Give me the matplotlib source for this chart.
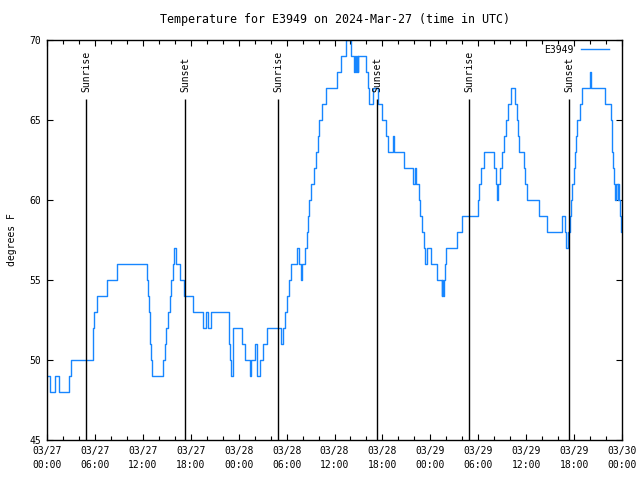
import pandas as pd
import matplotlib
matplotlib.use("Agg")
from matplotlib import pyplot as plt
from matplotlib.lines import Line2D
import matplotlib.dates as mdates

plt.rcParams["font.family"] = ["DejaVu Sans Mono"]
plt.rcParams["font.size"] = 7

START = pd.Timestamp("2024-03-27 00:00")
END = pd.Timestamp("2024-03-30 00:00")
STATION = "E3949"
LINE_COLOR = "#1786ff"

# hours since 03/27 00:00 UTC at which the reading changed, and the new reading (F)
hours = [
    0.0, 0.35, 0.95, 1.55, 2.75, 3.0, 5.7, 5.85, 6.3, 7.5, 8.75,
    12.55, 12.7, 12.8, 12.9, 12.95, 13.05, 13.15,
    14.5, 14.75, 14.95, 15.15, 15.35, 15.55, 15.75, 15.9,
    16.15, 16.6, 17.15, 18.25, 19.55, 19.85, 20.15, 20.5,
    22.75, 22.85, 22.95, 23.1, 23.35,
    24.4, 24.85, 25.4, 25.6, 26.05, 26.25, 26.35, 26.7, 27.0, 27.5,
    29.25, 29.5, 29.85, 30.1, 30.35, 30.6, 31.3, 31.55, 31.75, 31.95,
    32.3, 32.5, 32.7, 32.85,
    33.05, 33.4, 33.65, 33.9, 34.1, 34.4, 34.9, 36.35, 36.8, 37.45,
    38.1, 38.4, 38.55, 38.7, 38.8, 38.9, 39.0, 39.95, 40.15, 40.35, 40.8,
    41.45, 41.9, 42.4, 42.75, 43.3, 43.45, 44.75, 45.85, 46.05, 46.25,
    46.6, 46.75, 46.9,
    47.2, 47.35, 47.55, 48.1, 48.85, 49.45, 49.5, 49.6, 49.7, 49.8, 49.9,
    51.35, 52.0, 53.95, 54.05, 54.3, 54.7, 55.95, 56.2, 56.35, 56.5, 56.75,
    57.0, 57.25, 57.5, 57.75, 58.05,
    58.65, 58.8, 58.95, 59.05, 59.7, 59.85, 60.05, 61.6, 62.55, 64.5, 64.8,
    65.0, 65.2, 65.45, 65.65, 65.8, 65.95, 66.15, 66.25, 66.35, 66.8, 67.0,
    68.0, 68.15, 69.85, 70.65, 70.72, 70.8, 70.9, 71.0, 71.1, 71.25, 71.45,
    71.55, 71.65, 71.75, 71.9, 72.0,
]
temps = [
    49, 48, 49, 48, 49, 50, 52, 53, 54, 55, 56,
    55, 54, 53, 52, 51, 50, 49,
    50, 51, 52, 53, 54, 55, 56, 57,
    56, 55, 54, 53, 52, 53, 52, 53,
    52, 51, 50, 49, 52,
    51, 50, 49, 50, 51, 50, 49, 50, 51, 52,
    51, 52, 53, 54, 55, 56, 57, 56, 55, 56,
    57, 58, 59, 60,
    61, 62, 63, 64, 65, 66, 67, 68, 69, 70,
    69, 68, 69, 68, 69, 68, 69, 68, 67, 66, 67,
    66, 65, 64, 63, 64, 63, 62, 61, 62, 61,
    60, 59, 58,
    57, 56, 57, 56, 55, 54, 55, 54, 55, 56, 57,
    58, 59, 60, 61, 62, 63, 62, 61, 60, 61, 62,
    63, 64, 65, 66, 67,
    66, 65, 64, 63, 62, 61, 60, 59, 58, 59, 58,
    57, 58, 59, 60, 61, 62, 63, 64, 65, 66, 67,
    68, 67, 66, 65, 64, 63, 62, 61, 60, 61, 60,
    61, 60, 59, 58, 58,
]

sun_hours = [4.88, 17.32, 28.96, 41.36, 52.88, 65.4]
sun_labels = ["Sunrise", "Sunset", "Sunrise", "Sunset", "Sunrise", "Sunset"]

times = START + pd.to_timedelta(hours, unit="h")
sun_times = START + pd.to_timedelta(sun_hours, unit="h")

fig = plt.figure(figsize=(6.4, 4.8), dpi=100)
ax = fig.add_axes([47 / 640, 40 / 480, 575 / 640, 400 / 480])

ax.plot(times, temps, drawstyle="steps-post", color=LINE_COLOR, lw=1.0)

for t, lab in zip(sun_times, sun_labels):
    ax.vlines(t, 45, 66.3, color="black", lw=1.0)
    ax.text(t, 66.75, lab, rotation=90, ha="center", va="bottom")

ax.set_xlim(START, END)
ax.set_ylim(45, 70)
ax.set_yticks(range(45, 71, 5))
ax.xaxis.set_major_locator(mdates.HourLocator(byhour=[0, 6, 12, 18]))
ax.xaxis.set_minor_locator(mdates.HourLocator(interval=2))
ax.xaxis.set_major_formatter(mdates.DateFormatter("%m/%d\n%H:%M"))
ax.tick_params(which="both", direction="in", top=True, right=True, width=0.8)
ax.tick_params(which="major", length=4, pad=4)
ax.tick_params(which="minor", length=3)
for lbl in ax.get_xticklabels():
    lbl.set_linespacing(1.5)
for s in ax.spines.values():
    s.set_linewidth(1.0)

ax.set_ylabel("degrees F", labelpad=9)
ax.set_title("Temperature for E3949 on 2024-Mar-27 (time in UTC)", pad=12)
key = Line2D([], [], color=LINE_COLOR, lw=1.0)
ax.legend([key], [STATION], loc="upper right",
          bbox_to_anchor=(1 - 7 / 575, 1 + 1 / 400),
          frameon=False, markerfirst=False, handlelength=2.9,
          borderaxespad=0.2, handletextpad=0.75)

fig.savefig("out.png", dpi=100)
